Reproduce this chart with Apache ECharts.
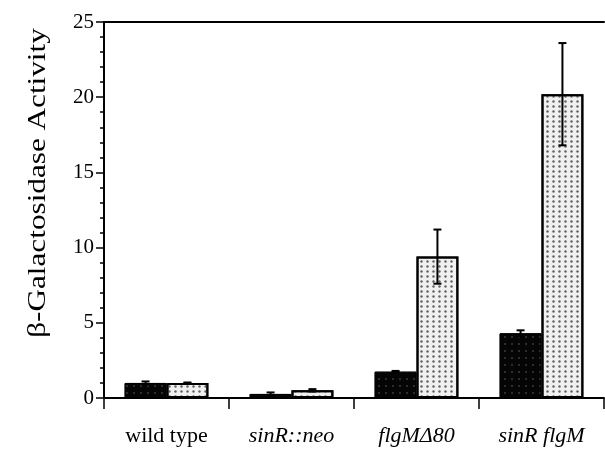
<!DOCTYPE html>
<html>
<head>
<meta charset="utf-8">
<script src="https://cdn.jsdelivr.net/npm/echarts@6/dist/echarts.min.js"></script>
<style>html,body{margin:0;padding:0;background:#fff;}#c{width:605px;height:449px;}</style>
</head>
<body>
<div id="c"></div>
<script>
const categories = ['wild type', 'sinR::neo', 'flgMΔ80', 'sinR flgM'];
const italicLabel = [false, true, true, true];
const darkValues = [1.0, 0.27, 1.75, 4.3];
const darkErrors = [0.1, 0.1, 0.05, 0.2];
const lightValues = [1.0, 0.51, 9.4, 20.2];
const lightErrors = [0.03, 0.08, 1.8, 3.4];
const yTicks = [0, 5, 10, 15, 20, 25];

const chart = echarts.init(document.getElementById('c'));
const serif = 'Liberation Serif, Times New Roman, serif';

function errSeries(values, errors, side) {
  return {
    type: 'custom',
    xAxisIndex: 0, yAxisIndex: 0,
    z: 5,
    data: values.map((v, i) => [i, v, errors[i]]),
    renderItem: function (params, api) {
      const cat = api.value(0), v = api.value(1), e = api.value(2);
      const band = api.size([1, 0])[0];
      const off = side * band * 0.1675;
      const t = api.coord([cat, v + e]);
      const b = api.coord([cat, v - e]);
      const x = t[0] + off;
      const cap = 4;
      const st = { stroke: '#000', lineWidth: 2 };
      return {
        type: 'group',
        children: [
          { type: 'line', shape: { x1: x, y1: t[1], x2: x, y2: b[1] }, style: st },
          { type: 'line', shape: { x1: x - cap, y1: t[1], x2: x + cap, y2: t[1] }, style: st },
          { type: 'line', shape: { x1: x - cap, y1: b[1], x2: x + cap, y2: b[1] }, style: st }
        ]
      };
    }
  };
}

chart.setOption({
  animation: false,
  backgroundColor: '#fff',
  grid: { left: 104, right: 1, top: 22, bottom: 51 },
  xAxis: [{
    type: 'category',
    data: categories,
    boundaryGap: true,
    axisLine: { lineStyle: { color: '#000', width: 2 } },
    axisTick: { show: true, length: 11, lineStyle: { color: '#000', width: 1.5 } },
    axisLabel: {
      margin: 27,
      color: '#000',
      formatter: function (v, i) { return italicLabel[i] ? '{i|' + v + '}' : '{n|' + v + '}'; },
      rich: {
        n: { fontFamily: serif, fontSize: 22, color: '#000' },
        i: { fontFamily: serif, fontSize: 22, fontStyle: 'italic', color: '#000' }
      }
    }
  }, {
    type: 'category',
    position: 'top',
    data: categories,
    axisLine: { lineStyle: { color: '#000', width: 2 } },
    axisTick: { show: false },
    axisLabel: { show: false }
  }],
  yAxis: {
    type: 'value',
    min: yTicks[0], max: yTicks[yTicks.length - 1], interval: 5,
    axisLine: { show: true, lineStyle: { color: '#000', width: 2 } },
    axisTick: { show: true, length: 8, lineStyle: { color: '#000', width: 1.5 } },
    minorTick: { show: true, splitNumber: 5, length: 4, lineStyle: { color: '#000', width: 1.5 } },
    splitLine: { show: false },
    axisLabel: { margin: 10, color: '#000', fontFamily: serif, fontSize: 21 }
  },
  series: [{
    type: 'bar',
    data: darkValues,
    barGap: 0,
    barCategoryGap: '33%',
    itemStyle: {
      color: '#050505',
      borderColor: '#000', borderWidth: 1,
      decal: { symbol: 'rect', symbolSize: 0.4, color: 'rgba(255,255,255,0.8)', dashArrayX: [[2, 5]], dashArrayY: [2, 5], rotation: 0 }
    }
  }, {
    type: 'bar',
    data: lightValues,
    barGap: 0,
    barCategoryGap: '33%',
    itemStyle: {
      color: '#f0f0f0',
      borderColor: '#000', borderWidth: 2,
      decal: { symbol: 'circle', symbolSize: 0.8, color: '#606060', dashArrayX: [[3, 3]], dashArrayY: [3, 2], rotation: 0 }
    }
  },
  errSeries(darkValues, darkErrors, -1),
  errSeries(lightValues, lightErrors, 1)
  ],
  graphic: [{
    type: 'text',
    x: 38, y: 183,
    rotation: Math.PI / 2,
    scaleX: 1.2,
    style: {
      text: 'β-Galactosidase Activity',
      font: '26px ' + serif,
      fill: '#000',
      textAlign: 'center',
      textVerticalAlign: 'middle'
    }
  }]
});
</script>
</body>
</html>
